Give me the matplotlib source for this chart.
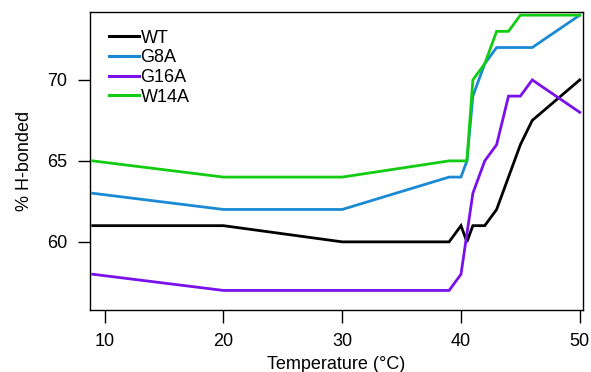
import matplotlib
matplotlib.use("Agg")
import matplotlib.pyplot as plt

plt.rcParams['font.family'] = ['Liberation Sans', 'DejaVu Sans']

temps = [9, 20, 30, 39, 40, 40.5, 41, 42, 43, 44, 45, 46, 50]
wt    = [61, 61, 60, 60, 61, 60, 61, 61, 62, 64, 66, 67.5, 70]
g8a   = [63, 62, 62, 64, 64, 65, 69, 71, 72, 72, 72, 72, 74]
g16a  = [58, 57, 57, 57, 58, 60.5, 63, 65, 66, 69, 69, 70, 68]
w14a  = [65, 64, 64, 65, 65, 65, 70, 71, 73, 73, 74, 74, 74]

labels = ["WT", "G8A", "G16A", "W14A"]
colors = ["#000000", "#1a8ad4", "#7a10ea", "#11cc11"]
xticks = [10, 20, 30, 40, 50]
yticks = [60, 65, 70]

fs = 13
fig = plt.figure(figsize=(5.91, 3.72), dpi=100)
ax = fig.add_axes([0.152, 0.167, 0.834, 0.801])
for ys, lab, c in zip([wt, g8a, g16a, w14a], labels, colors):
    ax.plot(temps, ys, color=c, lw=2.0, label=lab, solid_joinstyle='miter')

ax.set_xlim(8.75, 50.25)
ax.set_ylim(55.8, 74.2)
ax.set_xticks(xticks)
ax.set_yticks(yticks)
ax.tick_params(direction='out', length=9, width=1.0, labelsize=fs)
ax.tick_params(axis='x', pad=8)
ax.tick_params(axis='y', pad=7)
for s in ax.spines.values():
    s.set_linewidth(1.0)
ax.set_xlabel("Temperature (°C)", fontsize=fs, labelpad=4)
ax.set_ylabel("% H-bonded", fontsize=fs, labelpad=10)
leg = ax.legend(loc='upper left', frameon=False, fontsize=fs, handlelength=1.65,
          handletextpad=0.1, labelspacing=0.15, borderaxespad=0.0,
          bbox_to_anchor=(0.024, 0.965))
for h in leg.get_lines():
    h.set_linewidth(2.2)
fig.savefig("out.png", dpi=100)
